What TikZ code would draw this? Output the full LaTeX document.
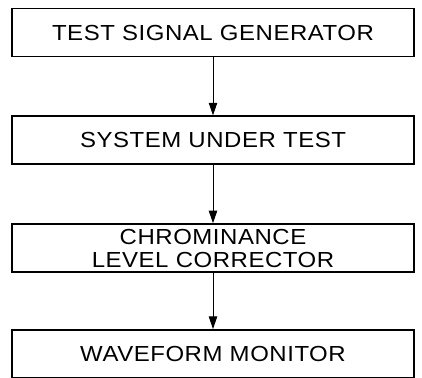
\documentclass[tikz,border=0pt]{standalone}
\usepackage{fontspec}
\setmainfont[FakeStretch=1.1, LetterSpace=2.5]{Liberation Sans}
\usetikzlibrary{arrows.meta,positioning}

\begin{document}
\begin{tikzpicture}[
  font=\fontsize{15.5}{16.5}\selectfont,
  blk/.style={draw, line width=1.3pt, align=center, inner sep=2pt,
    minimum width=100.5mm, minimum height=12mm},
  arr/.style={-{Triangle[length=9pt, width=6pt]}, line width=0.7pt}
]

\useasboundingbox (-5.325,0.8125) rectangle (5.225,-8.6125);

\node[blk] (gen) at (0,0) {TEST SIGNAL GENERATOR};
\node[blk, below=14.5mm of gen] (sut) {SYSTEM UNDER TEST};
\node[blk, below=14.5mm of sut] (corr) {CHROMINANCE\\ LEVEL CORRECTOR};
\node[blk, below=14mm of corr] (mon) {WAVEFORM MONITOR};

\draw[arr] (gen) -- (sut);
\draw[arr] (sut) -- (corr);
\draw[arr] (corr) -- (mon);

\end{tikzpicture}
\end{document}
